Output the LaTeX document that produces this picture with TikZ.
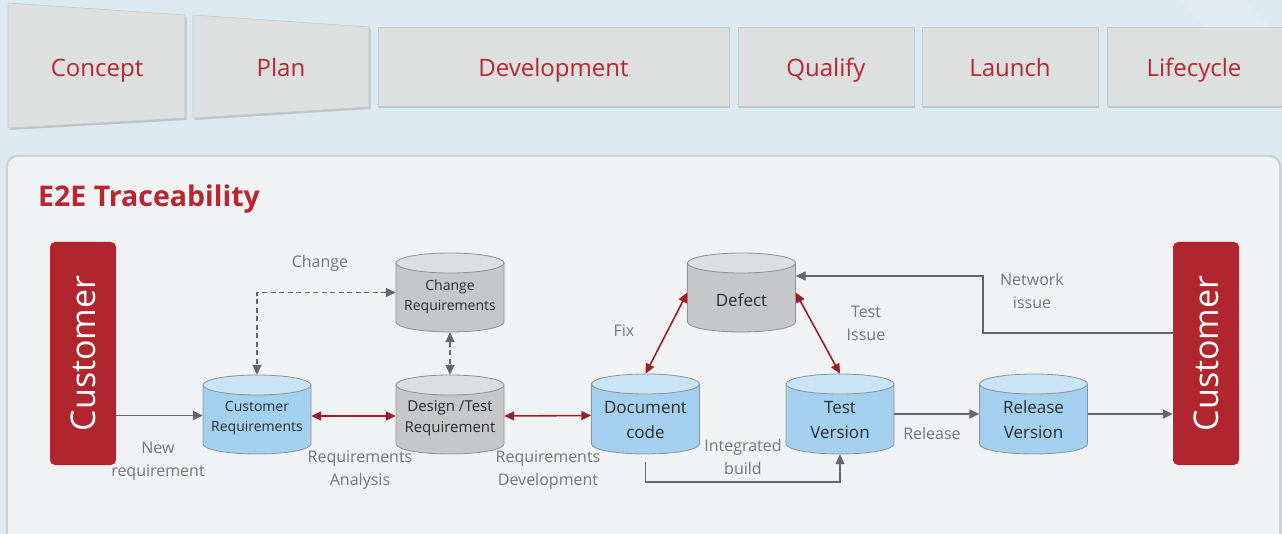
\documentclass[tikz,border=0pt]{standalone}
\usepackage{fontspec}
\setmainfont{Open Sans}
\usetikzlibrary{arrows.meta,shadows}
\definecolor{bgblue}{HTML}{DDE9F1}
\definecolor{phasefill}{HTML}{DEDFDF}
\definecolor{phaseline}{HTML}{C4C8CB}
\definecolor{redtext}{HTML}{B8262F}
\definecolor{panelfill}{HTML}{F1F2F4}
\definecolor{panelline}{HTML}{C9D1D8}
\definecolor{custred}{HTML}{B1262E}
\definecolor{bluebody}{HTML}{A3D0EE}
\definecolor{bluetop}{HTML}{C8E4F6}
\definecolor{graybody}{HTML}{C6C7C8}
\definecolor{graytop}{HTML}{DDDEDF}
\definecolor{cylline}{HTML}{8E9296}
\definecolor{labelgray}{HTML}{767676}
\definecolor{arrowgray}{HTML}{666666}
\definecolor{arrowred}{HTML}{9A1E24}
\definecolor{cyltext}{HTML}{2B2B2B}
\newcommand\cylshape[6]{%
  % #1 name, #2 cx, #3 top, #4 bottom, #5 body colour, #6 top colour
  \fill[#5,draw=cylline,line width=0.8pt] (#2-54,#3+10) -- (#2-54,#4-10)
    arc[start angle=180,end angle=360,x radius=54pt,y radius=10pt]
    -- (#2+54,#3+10) -- cycle;
  \fill[#6,draw=cylline,line width=0.8pt] (#2,#3+10) ellipse[x radius=54pt,y radius=10pt];
  \node[minimum width=108pt,minimum height={#4-#3},inner sep=0pt] (#1) at (#2,{(#3+#4)/2}) {};
}
\begin{document}
\begin{tikzpicture}[x=1pt,y=-1pt,
  phasebox/.style={fill=phasefill,draw=phaseline,line width=0.6pt,
    drop shadow={shadow xshift=1pt,shadow yshift=-2pt,opacity=0.35,fill=gray}},
  phasetext/.style={text=redtext,font=\fontsize{24}{28}\selectfont,anchor=base},
  custbox/.style={fill=custred,rounded corners=5pt,minimum width=66pt,minimum height=223pt,inner sep=0pt},
  custtext/.style={text=white,font=\fontsize{34}{38}\selectfont,rotate=90},
  cyltxt/.style={text=cyltext,align=center},
  lbl/.style={text=labelgray,align=center,font=\fontsize{16}{23}\selectfont},
  garrow/.style={draw=arrowgray,line width=1.5pt,-{Triangle[length=10pt,width=9pt]}},
  rarrow/.style={draw=arrowred,line width=1.6pt,{Triangle[length=10pt,width=9pt]}-{Triangle[length=10pt,width=9pt]}},
  darrow/.style={draw=arrowgray,line width=1.5pt,dash pattern=on 5pt off 3.5pt}
]
\useasboundingbox (0,0) rectangle (1282,534);
\fill[bgblue] (0,0) rectangle (1282,534);
\fill[white,opacity=0.12] (1180,0) -- (1245,0) -- (1282,40) -- (1282,110) -- cycle;

% phase boxes
\fill[gray,opacity=0.35] (9.5,5) -- (186.5,17) -- (186.5,120) -- (9.5,130) -- cycle;
\fill[phasefill,draw=phaseline,line width=0.6pt] (8,3) -- (185,15) -- (185,118) -- (8,128) -- cycle;
\node[phasetext] (concept) at (97,77) {Concept};
\fill[gray,opacity=0.35] (194.5,17) -- (370.5,29) -- (370.5,109) -- (194.5,120) -- cycle;
\fill[phasefill,draw=phaseline,line width=0.6pt] (193,15) -- (369,27) -- (369,107) -- (193,118) -- cycle;
\node[phasetext] (plan) at (281,77) {Plan};
\node[phasebox,minimum width=351pt,minimum height=79pt,inner sep=0pt] (devbox) at (553.5,66.5) {};
\node[phasetext] (dev) at (553.5,77) {Development};
\node[phasebox,minimum width=176pt,minimum height=79pt,inner sep=0pt] (qualbox) at (826,66.5) {};
\node[phasetext] (qual) at (826,77) {Qualify};
\node[phasebox,minimum width=176pt,minimum height=79pt,inner sep=0pt] (launchbox) at (1010,66.5) {};
\node[phasetext] (launch) at (1010,77) {Launch};
\node[phasebox,minimum width=190pt,minimum height=79pt,inner sep=0pt] (lifebox) at (1202,66.5) {};
\node[phasetext] (life) at (1194,77) {Lifecycle};

% panel
\fill[panelline,rounded corners=11pt] (6,155) rectangle (1281,560);
\fill[panelfill,rounded corners=10pt] (8,157) rectangle (1279,560);
\node[anchor=base west,text=redtext,font=\bfseries\fontsize{28.5}{32}\selectfont,inner sep=0pt] (title) at (38,207) {E2E Traceability};

% customers
\node[custbox] (lc) at (83,353.5) {};
\node[custtext] (lct) at (lc.center) {Customer};
\node[custbox] (rc) at (1206,353.5) {};
\node[custtext] (rct) at (rc.center) {Customer};

% cylinders
\cylshape{cr}{257}{375}{454}{bluebody}{bluetop}
\node[cyltxt,font=\fontsize{14}{20.5}\selectfont] (crt) at (257,418) {Customer\\Requirements};
\cylshape{dt}{450}{375}{454}{graybody}{graytop}
\node[cyltxt,font=\fontsize{15}{21}\selectfont] (dtt) at (450,418) {Design /Test\\Requirement};
\cylshape{chg}{450}{253}{332}{graybody}{graytop}
\node[cyltxt,font=\fontsize{14}{20.5}\selectfont] (chgt) at (450,297) {Change\\Requirements};
\cylshape{doc}{645.5}{374}{454}{bluebody}{bluetop}
\node[cyltxt,font=\fontsize{17}{25}\selectfont] (doct) at (645.5,420) {Document\\code};
\cylshape{def}{741.5}{253}{332}{graybody}{graytop}
\node[cyltxt,font=\fontsize{17}{25}\selectfont] (deft) at (741.5,300) {Defect};
\cylshape{tv}{840}{374}{454}{bluebody}{bluetop}
\node[cyltxt,font=\fontsize{17}{25}\selectfont] (tvt) at (840,420) {Test\\Version};
\cylshape{rv}{1033.5}{374}{454}{bluebody}{bluetop}
\node[cyltxt,font=\fontsize{17}{25}\selectfont] (rvt) at (1033.5,420) {Release\\Version};

% connectors
\draw[garrow] ([yshift=-1pt]lc.east |- cr.west) -- ([yshift=-1pt]cr.west);
\draw[rarrow] ([yshift=-1.5pt]cr.east) -- ([yshift=-1.5pt]dt.west);
\draw[rarrow] ([yshift=-1.5pt]dt.east) -- ([yshift=-1.5pt]doc.west);
\draw[darrow,{Triangle[length=10pt,width=9pt]}-{Triangle[length=10pt,width=9pt]}] (chg.west) -| (cr.north);
\draw[darrow,{Triangle[length=10pt,width=9pt]}-{Triangle[length=10pt,width=9pt]}] (chg.south) -- (dt.north);
\draw[rarrow] (doc.north) -- (def.west);
\draw[rarrow] (def.east) -- (tv.north);
\draw[garrow] (tv.east) -- (rv.west);
\draw[garrow] (rv.east) -- (rv.east -| rc.west);
\draw[garrow] ([yshift=20.5pt]rc.west) -- ++(-190,0) |- ([yshift=16.5pt]def.east);
\draw[garrow] ([yshift=-8pt]doc.south) -- ++(0,20) -| (tv.south);

% labels
\node[lbl] (l1) at (320,263) {Change};
\node[lbl] (l2) at (158,461) {New\\requirement};
\node[lbl] (l3) at (360,470) {Requirements\\Analysis};
\node[lbl] (l4) at (548,470) {Requirements\\Development};
\node[lbl] (l5) at (624,331) {Fix};
\node[lbl] (l6) at (866,323) {Test\\Issue};
\node[lbl] (l7) at (743,457) {Integrated\\build};
\node[lbl] (l8) at (932,433) {Release};
\node[lbl] (l9) at (1032,291) {Network\\issue};
\end{tikzpicture}
\end{document}
